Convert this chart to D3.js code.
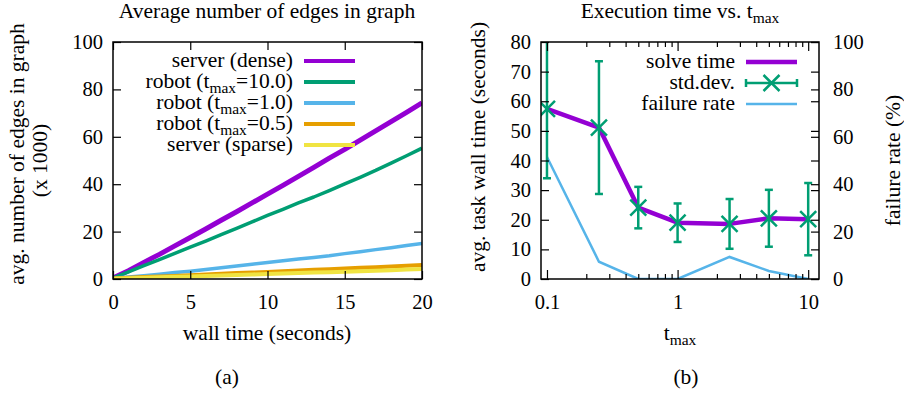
<!DOCTYPE html>
<html>
<head>
<meta charset="utf-8">
<script src="https://cdn.jsdelivr.net/npm/d3@7"></script>
<style>
  body { margin: 0; background: #fff; }
  svg text { font-family: "Liberation Serif", "DejaVu Serif", serif; }
</style>
</head>
<body>
<svg id="fig" width="904" height="393" font-family="Liberation Serif, DejaVu Serif, serif"></svg>
<script>
// ---- data ----
const wallTime = [0, 1, 2, 3, 4, 5, 6, 7, 8, 9, 10, 11, 12, 13, 14, 15, 16, 17, 18, 19, 20];
const serverDense = [0.4, 3.5, 7.0, 10.4, 14.0, 17.5, 21.1, 24.8, 28.4, 32.1, 35.8, 39.5, 43.3, 47.1, 51.0, 54.7, 58.6, 62.5, 66.4, 70.3, 74.3];
const robot10 = [0.4, 3.0, 5.6, 8.2, 10.8, 13.4, 16.0, 18.7, 21.4, 24.1, 26.8, 29.4, 32.1, 34.6, 37.3, 40.1, 42.9, 45.8, 48.9, 52.0, 55.2];
const robot1 = [0.3, 0.8, 1.4, 2.0, 2.7, 3.3, 4.0, 4.7, 5.5, 6.2, 7.0, 7.7, 8.4, 9.1, 9.8, 10.7, 11.5, 12.4, 13.2, 14.1, 15.0];
const robot05 = [0.2, 0.5, 0.8, 1.1, 1.3, 1.6, 1.9, 2.2, 2.5, 2.7, 3.0, 3.3, 3.6, 3.9, 4.1, 4.4, 4.7, 5.0, 5.3, 5.6, 5.9];
const serverSparse = [0.1, 0.3, 0.5, 0.7, 0.9, 1.1, 1.3, 1.5, 1.7, 1.9, 2.1, 2.3, 2.5, 2.7, 2.9, 3.1, 3.3, 3.5, 3.7, 4.0, 4.2];

const seriesLabels = ['server (dense)', 'robot (t_{max}=10.0)', 'robot (t_{max}=1.0)', 'robot (t_{max}=0.5)', 'server (sparse)'];
const seriesColors = ['#9400d3', '#009e73', '#56b4e9', '#e69f00', '#f0e442'];

const tmaxValues = [0.1, 0.25, 0.5, 1, 2.5, 5, 10];
const solveTime = [57.4, 51.1, 24.1, 19.0, 18.6, 20.5, 20.2];
const solveStd = [23.4, 22.4, 7.0, 6.5, 8.4, 9.6, 12.2];
const failureRate = [51.5, 7.3, 0, 0, 9.3, 3.4, 0];

const edgeTicksX = [0, 5, 10, 15, 20];
const edgeTicksY = [0, 20, 40, 60, 80, 100];
const timeTicksY = [0, 10, 20, 30, 40, 50, 60, 70, 80];
const failTicksY = [0, 20, 40, 60, 80, 100];
const tmaxTicks = [0.1, 1, 10];
const tmaxMinor = [0.2, 0.3, 0.4, 0.5, 0.6, 0.7, 0.8, 0.9, 2, 3, 4, 5, 6, 7, 8, 9];

const svg = d3.select('#fig');
const FS = 21.5;   // words
const TS = 20.5;   // tick numbers
const FONT = 'Liberation Serif, DejaVu Serif, serif';

// writes "t_{max}" style labels with a real subscript
function richText(sel, str) {
  const parts = str.split(/_\{([^}]*)\}/);
  parts.forEach((p, i) => {
    if (!p) return;
    const t = sel.append('tspan').text(p);
    if (i % 2 === 1) {
      t.attr('font-size', FS * 0.72).attr('dy', 4.5);
    } else if (i > 0) {
      t.attr('dy', -4.5);
    }
  });
  return sel;
}

function styleAxis(g) {
  g.attr('font-family', FONT).attr('font-size', TS);
  g.selectAll('.domain').remove();
  g.selectAll('line').attr('stroke', '#000').attr('stroke-width', 1.2);
  g.selectAll('text').attr('fill', '#000').attr('font-family', FONT);
}

// ================= (a) edges over time =================
const A = { left: 113, right: 422, top: 42, bottom: 279 };
const xA = d3.scaleLinear().domain([0, 20]).range([A.left, A.right]);
const yA = d3.scaleLinear().domain([0, 100]).range([A.bottom, A.top]);

const gA = svg.append('g').attr('font-family', FONT);

gA.append('clipPath').attr('id', 'clipA')
  .append('rect').attr('x', A.left).attr('y', A.top)
  .attr('width', A.right - A.left).attr('height', A.bottom - A.top);

const series = [serverDense, robot10, robot1, robot05, serverSparse];
const widths = [5, 3.5, 3.5, 4, 4];
const lineA = d3.line().x((d, i) => xA(wallTime[i])).y((d) => yA(d));

series.forEach((s, k) => {
  gA.append('path')
    .datum(s)
    .attr('clip-path', 'url(#clipA)')
    .attr('fill', 'none')
    .attr('stroke', seriesColors[k])
    .attr('stroke-width', widths[k])
    .attr('stroke-linejoin', 'round')
    .attr('d', lineA);
});

// axes (all ticks inward, mirrored on top / right)
gA.append('g').attr('transform', `translate(0,${A.bottom})`)
  .call(d3.axisBottom(xA).tickValues(edgeTicksX).tickSize(-8).tickPadding(15))
  .call(styleAxis);
gA.append('g').attr('transform', `translate(0,${A.top})`)
  .call(d3.axisTop(xA).tickValues(edgeTicksX).tickSize(-8).tickFormat(''))
  .call(styleAxis);
gA.append('g').attr('transform', `translate(${A.left},0)`)
  .call(d3.axisLeft(yA).tickValues(edgeTicksY).tickSize(-8).tickPadding(10))
  .call(styleAxis);
gA.append('g').attr('transform', `translate(${A.right},0)`)
  .call(d3.axisRight(yA).tickValues(edgeTicksY).tickSize(-8).tickFormat(''))
  .call(styleAxis);

gA.append('rect')
  .attr('x', A.left).attr('y', A.top)
  .attr('width', A.right - A.left).attr('height', A.bottom - A.top)
  .attr('fill', 'none').attr('stroke', '#000').attr('stroke-width', 1.5);

// legend
seriesLabels.forEach((lab, k) => {
  const y = 61 + k * 21;
  richText(gA.append('text')
    .attr('x', 293).attr('y', y + 6)
    .attr('text-anchor', 'end')
    .attr('font-size', FS), lab);
  gA.append('line')
    .attr('x1', 304).attr('x2', 355).attr('y1', y).attr('y2', y)
    .attr('stroke', seriesColors[k]).attr('stroke-width', 4);
});

gA.append('text').attr('x', 267).attr('y', 18).attr('text-anchor', 'middle')
  .attr('font-size', FS).text('Average number of edges in graph');
gA.append('text').attr('x', 267).attr('y', 340).attr('text-anchor', 'middle')
  .attr('font-size', FS).text('wall time (seconds)');
gA.append('text').attr('transform', 'translate(24,154) rotate(-90)')
  .attr('text-anchor', 'middle').attr('font-size', FS)
  .text('avg. number of edges in graph');
gA.append('text').attr('transform', 'translate(47,160.5) rotate(-90)')
  .attr('text-anchor', 'middle').attr('font-size', FS)
  .text('(x 1000)');
gA.append('text').attr('x', 227).attr('y', 384).attr('text-anchor', 'middle')
  .attr('font-size', FS).text('(a)');

// ================= (b) execution time vs t_max =================
const B = { left: 541, right: 819, top: 42, bottom: 279 };
const xB = d3.scaleLog().domain([0.09, 12.1]).range([B.left, B.right]);
const yB = d3.scaleLinear().domain([0, 80]).range([B.bottom, B.top]);
const y2B = d3.scaleLinear().domain([0, 100]).range([B.bottom, B.top]);

const gB = svg.append('g').attr('font-family', FONT);

gB.append('clipPath').attr('id', 'clipB')
  .append('rect').attr('x', B.left).attr('y', B.top)
  .attr('width', B.right - B.left).attr('height', B.bottom - B.top);

const green = '#009e73';
const purple = '#9400d3';
const blue = '#56b4e9';

// failure rate on the right axis
gB.append('path')
  .datum(failureRate)
  .attr('clip-path', 'url(#clipB)')
  .attr('fill', 'none').attr('stroke', blue).attr('stroke-width', 2.5)
  .attr('d', d3.line().x((d, i) => xB(tmaxValues[i])).y((d) => y2B(d)));

// solve time
gB.append('path')
  .datum(solveTime)
  .attr('clip-path', 'url(#clipB)')
  .attr('fill', 'none').attr('stroke', purple).attr('stroke-width', 4.5)
  .attr('stroke-linejoin', 'round')
  .attr('d', d3.line().x((d, i) => xB(tmaxValues[i])).y((d) => yB(d)));

// error bars with X markers
const errG = gB.append('g').attr('clip-path', 'url(#clipB)')
  .attr('stroke', green).attr('stroke-width', 2.5).attr('fill', 'none');

function drawCross(g, cx, cy, r) {
  g.append('path').attr('d', `M${cx - r},${cy - r}L${cx + r},${cy + r}M${cx - r},${cy + r}L${cx + r},${cy - r}`);
}

tmaxValues.forEach((t, i) => {
  const cx = xB(t);
  const yHi = yB(solveTime[i] + solveStd[i]);
  const yLo = yB(solveTime[i] - solveStd[i]);
  errG.append('line').attr('x1', cx).attr('x2', cx).attr('y1', yHi).attr('y2', yLo);
  errG.append('line').attr('x1', cx - 4).attr('x2', cx + 4).attr('y1', yHi).attr('y2', yHi);
  errG.append('line').attr('x1', cx - 4).attr('x2', cx + 4).attr('y1', yLo).attr('y2', yLo);
  drawCross(errG, cx, yB(solveTime[i]), 8);
});

// axes
gB.append('g').attr('transform', `translate(0,${B.bottom})`)
  .call(d3.axisBottom(xB).tickValues(tmaxTicks).tickSize(-9).tickPadding(15)
    .tickFormat((d) => String(d)))
  .call(styleAxis);
gB.append('g').attr('transform', `translate(0,${B.bottom})`)
  .call(d3.axisBottom(xB).tickValues(tmaxMinor).tickSize(-5).tickFormat(''))
  .call(styleAxis);
gB.append('g').attr('transform', `translate(0,${B.top})`)
  .call(d3.axisTop(xB).tickValues(tmaxTicks).tickSize(-9).tickFormat(''))
  .call(styleAxis);
gB.append('g').attr('transform', `translate(0,${B.top})`)
  .call(d3.axisTop(xB).tickValues(tmaxMinor).tickSize(-5).tickFormat(''))
  .call(styleAxis);
gB.append('g').attr('transform', `translate(${B.left},0)`)
  .call(d3.axisLeft(yB).tickValues(timeTicksY).tickSize(-8).tickPadding(10))
  .call(styleAxis);
gB.append('g').attr('transform', `translate(${B.right},0)`)
  .call(d3.axisRight(yB).tickValues(timeTicksY).tickSize(-8).tickFormat(''))
  .call(styleAxis);
gB.append('g').attr('transform', `translate(${B.right},0)`)
  .call(d3.axisRight(y2B).tickValues(failTicksY).tickSize(-8).tickPadding(14))
  .call(styleAxis);

gB.append('rect')
  .attr('x', B.left).attr('y', B.top)
  .attr('width', B.right - B.left).attr('height', B.bottom - B.top)
  .attr('fill', 'none').attr('stroke', '#000').attr('stroke-width', 1.5);

// legend
const legB = ['solve time', 'std.dev.', 'failure rate'];
legB.forEach((lab, k) => {
  const y = 62 + k * 21;
  gB.append('text').attr('x', 735).attr('y', y + 6)
    .attr('text-anchor', 'end').attr('font-size', FS).text(lab);
});
gB.append('line').attr('x1', 746).attr('x2', 797).attr('y1', 62).attr('y2', 62)
  .attr('stroke', purple).attr('stroke-width', 4.5);
const legErr = gB.append('g').attr('stroke', green).attr('stroke-width', 2.5).attr('fill', 'none');
legErr.append('line').attr('x1', 746).attr('x2', 797).attr('y1', 83).attr('y2', 83);
legErr.append('line').attr('x1', 746).attr('x2', 746).attr('y1', 79).attr('y2', 87);
legErr.append('line').attr('x1', 797).attr('x2', 797).attr('y1', 79).attr('y2', 87);
drawCross(legErr, 771.5, 83, 8);
gB.append('line').attr('x1', 746).attr('x2', 797).attr('y1', 104).attr('y2', 104)
  .attr('stroke', blue).attr('stroke-width', 2.5);

richText(gB.append('text').attr('x', 680).attr('y', 18).attr('text-anchor', 'middle')
  .attr('font-size', FS), 'Execution time vs. t_{max}');
richText(gB.append('text').attr('x', 680).attr('y', 340).attr('text-anchor', 'middle')
  .attr('font-size', FS), 't_{max}');
gB.append('text').attr('transform', 'translate(485,147) rotate(-90)')
  .attr('text-anchor', 'middle').attr('font-size', FS)
  .text('avg. task wall time (seconds)');
gB.append('text').attr('transform', 'translate(900,160.5) rotate(-90)')
  .attr('text-anchor', 'middle').attr('font-size', FS)
  .text('failure rate (%)');
gB.append('text').attr('x', 686).attr('y', 384).attr('text-anchor', 'middle')
  .attr('font-size', FS).text('(b)');
</script>
</body>
</html>
